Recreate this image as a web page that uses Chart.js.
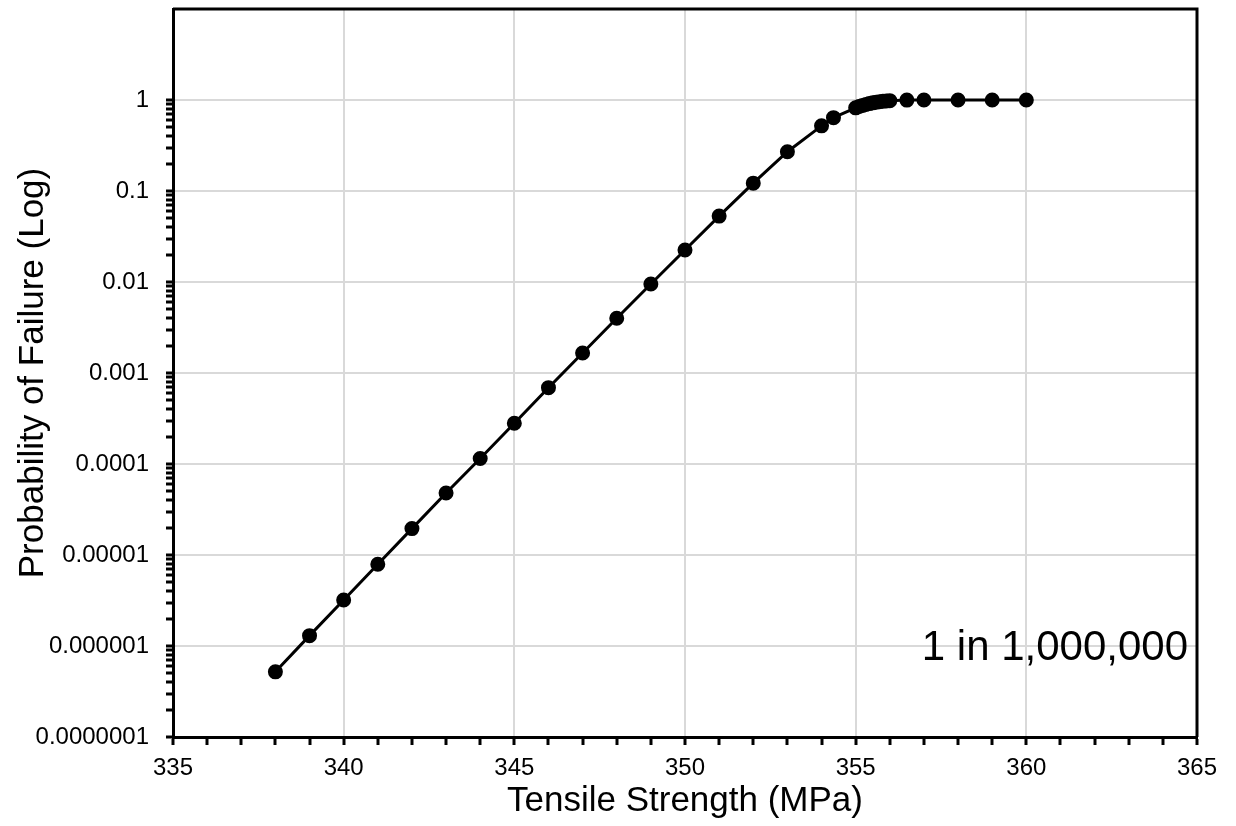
<!DOCTYPE html>
<html>
<head>
<meta charset="utf-8">
<script src="https://cdn.jsdelivr.net/npm/chart.js@4"></script>
<style>
  html, body { margin: 0; padding: 0; background: #fff; }
  #wrap { width: 1236px; height: 826px; }
</style>
</head>
<body>
<div id="wrap"><canvas id="failChart" width="1236" height="826"></canvas></div>
<script>
// data
const strength = [338, 339, 340, 341, 342, 343, 344, 345, 346, 347, 348, 349, 350,
  351, 352, 353, 354, 354.35, 355, 355.1, 355.2, 355.3, 355.4, 355.5, 355.6,
  355.7, 355.8, 355.9, 356, 356.5, 357, 358, 359, 360];
const probability = [5.2e-7, 1.3e-6, 3.2e-6, 7.9e-6, 1.95e-5, 4.8e-5, 1.15e-4,
  2.8e-4, 6.9e-4, 1.66e-3, 4.0e-3, 9.5e-3, 0.0225, 0.053, 0.122, 0.27, 0.52,
  0.64, 0.82, 0.848, 0.872, 0.893, 0.913, 0.93, 0.944, 0.957, 0.968, 0.976,
  0.983, 0.998, 1, 1, 1, 1];
const xMin = 335, xMax = 365;
const yMin = 1e-7, yMax = 10;
const note = "1 in 1,000,000";

const font = "'Liberation Sans', Arial, sans-serif";

const isDecade = (v) => Math.abs(Math.log10(v) - Math.round(Math.log10(v))) < 1e-6;

// box around plot + the note text
const boxPlugin = {
  id: "box",
  afterDraw(chart) {
    const { ctx, chartArea: a, scales } = chart;
    ctx.save();
    ctx.strokeStyle = "#000";
    ctx.lineWidth = 3;
    ctx.beginPath();
    ctx.moveTo(a.left, a.top);
    ctx.lineTo(a.right, a.top);
    ctx.lineTo(a.right, a.bottom);
    ctx.stroke();
    ctx.fillStyle = "#000";
    ctx.font = "42px " + font;
    ctx.textAlign = "right";
    ctx.textBaseline = "middle";
    ctx.fillText(note, a.right - 9, scales.y.getPixelForValue(1e-6) + 2);
    ctx.restore();
  },
};

const ctx = document.getElementById("failChart").getContext("2d");
const failChart = new Chart(ctx, {
  type: "scatter",
  data: {
    datasets: [
      {
        data: strength.map((x, i) => ({ x: x, y: probability[i] })),
        showLine: true,
        borderColor: "#000",
        backgroundColor: "#000",
        borderWidth: 3,
        pointRadius: 6,
        pointHoverRadius: 6,
        tension: 0,
      },
    ],
  },
  options: {
    responsive: false,
    animation: false,
    layout: { padding: { top: 7, right: 39, left: 0, bottom: 0 } },
    plugins: {
      legend: { display: false },
      tooltip: { enabled: false },
    },
    scales: {
      x: {
        type: "linear",
        min: xMin,
        max: xMax,
        afterBuildTicks: (scale) => {
          const t = [];
          for (let v = xMin; v <= xMax; v++) t.push({ value: v });
          scale.ticks = t;
        },
        afterFit: (scale) => {
          scale.height = 89;
          scale.paddingLeft = 0;
          scale.paddingRight = 0;
        },
        border: { color: "#000", width: 3 },
        grid: {
          color: (c) => (c.tick && c.tick.value % 5 === 0 ? "#d9d9d9" : "rgba(0,0,0,0)"),
          lineWidth: 2,
          tickColor: "#000",
          tickWidth: 3,
          tickLength: 8,
        },
        ticks: {
          autoSkip: false,
          maxRotation: 0,
          padding: 9,
          color: "#000",
          font: { family: font, size: 24 },
          callback: (v) => (v % 5 === 0 ? String(v) : ""),
        },
        title: {
          display: true,
          text: "Tensile Strength (MPa)",
          color: "#000",
          font: { family: font, size: 35 },
          padding: { top: 0, bottom: 4 },
        },
      },
      y: {
        type: "logarithmic",
        min: yMin,
        max: yMax,
        afterBuildTicks: (scale) => {
          // minor ticks only up to 1, none in the top decade
          const t = [];
          for (let e = -7; e <= -1; e++) {
            for (let m = 1; m <= 9; m++) {
              t.push({ value: Number((m * Math.pow(10, e)).toPrecision(3)) });
            }
          }
          t.push({ value: 1 });
          t.push({ value: 10 });
          scale.ticks = t;
        },
        afterFit: (scale) => {
          scale.width = 173;
          scale.paddingTop = 0;
          scale.paddingBottom = 0;
        },
        border: { color: "#000", width: 3 },
        grid: {
          color: (c) => (c.tick && isDecade(c.tick.value) ? "#d9d9d9" : "rgba(0,0,0,0)"),
          lineWidth: 2,
          tickColor: (c) => (c.tick && c.tick.value > 1 ? "rgba(0,0,0,0)" : "#000"),
          tickWidth: 3,
          tickLength: 7,
        },
        ticks: {
          autoSkip: false,
          padding: 17,
          color: "#000",
          font: { family: font, size: 24 },
          callback: (v) => {
            if (!isDecade(v) || v > 1) return "";
            const e = Math.round(Math.log10(v));
            return v.toFixed(Math.max(0, -e));
          },
        },
        title: {
          display: true,
          text: "Probability of Failure (Log)",
          color: "#000",
          font: { family: font, size: 35 },
          padding: { top: 12, bottom: 0 },
        },
      },
    },
  },
  plugins: [boxPlugin],
});
</script>
</body>
</html>
